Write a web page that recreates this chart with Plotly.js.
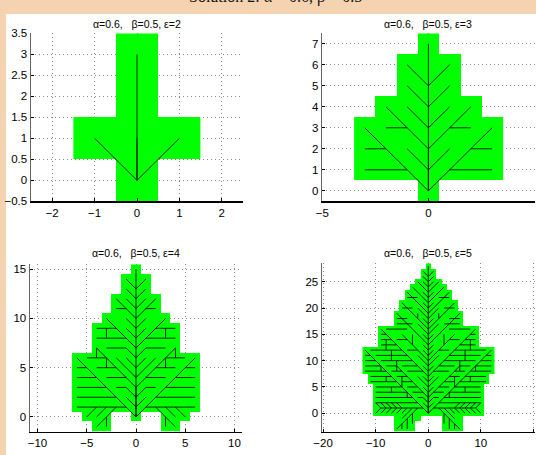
<!DOCTYPE html>
<html>
<head>
<meta charset="utf-8">
<script src="https://cdn.plot.ly/plotly-3.0.1.min.js"></script>
<style>
  html, body { margin: 0; padding: 0; background: #f6d3b0; }
  #fig { width: 536px; height: 455px; }
</style>
</head>
<body>
<div id="fig"></div>
<script>
// panel titles
const titles = [
  'α=0.6,\u00a0\u00a0\u00a0β=0.5, ε=2',
  'α=0.6,\u00a0\u00a0\u00a0β=0.5, ε=3',
  'α=0.6,\u00a0\u00a0\u00a0β=0.5, ε=4',
  'α=0.6,\u00a0\u00a0\u00a0β=0.5, ε=5'
];

// green cells, one row span per entry: [y, xFrom, xTo]
const cells2 = [[0,0,0],[1,-1,1],[2,0,0],[3,0,0]];
const cells3 = [[0,0,0],[1,-3,3],[2,-3,3],[3,-3,3],[4,-2,2],[5,-1,1],[6,-1,1],[7,0,0]];
const cells4 = [
  [-1,-4,-3],[-1,3,4],[0,-5,-3],[0,0,0],[0,3,5],
  [1,-6,6],[2,-6,6],[3,-6,6],[4,-6,6],[5,-6,6],[6,-6,6],
  [7,-4,4],[8,-4,4],[9,-4,4],[10,-3,3],[11,-2,2],[12,-2,2],
  [13,-1,1],[14,-1,1],[15,0,0]
];
const cells5 = [
  [-3,-6,-3],[-3,3,6],[-2,-6,-3],[-2,3,6],[-1,-6,-2],[-1,3,6],
  [0,-10,10],[1,-10,10],[2,-10,10],[3,-10,10],[4,-10,10],[5,-10,10],
  [6,-11,11],[7,-11,11],
  [8,-12,12],[9,-12,12],[10,-12,12],[11,-12,12],[12,-12,12],
  [13,-9,9],[14,-9,9],[15,-9,9],[16,-9,9],
  [17,-6,6],[18,-6,6],[19,-6,6],[20,-5,5],[21,-5,5],
  [22,-4,4],[23,-4,4],[24,-3,3],[25,-2,2],[26,-1,1],[27,-1,1],[28,0,0]
];

// branches of the right half (trunk included), [x0, y0, x1, y1]; the left half is the mirror
const segs2 = [[0,0,0,3],[0,0,0,1],[0,0,1,1]];
const segs3 = [
  [0,0,0,7],[0,0,0,2],
  [0,0,3,3],[0,1,1,2],[0,2,2,4],[0,3,1,4],[0,4,1,5],[0,5,1,6],
  [1,1,3,1],[2,2,3,2],[1,3,2,3]
];
const segs4 = [
  [0,0,0,15],[0,0,0,3],
  [0,0,6,6],[1,1,6,1],[2,2,6,2],[3,3,6,3],[4,4,6,4],[5,5,6,5],
  [2,1,4,-1],[3,1,4,0],[4,1,5,0],[3,0,3,-1],
  [0,1,1,2],[0,2,1,3],[1,3,2,3],
  [0,3,4,7],[1,4,3,4],[2,5,4,5],[3,6,5,6],[0,4,2,6],[0,5,1,6],[0,6,1,7],[1,7,3,7],
  [4,6,4,7],[3,5,3,6],[3,8,3,9],
  [0,7,3,10],[1,8,4,8],[2,9,4,9],[0,8,1,9],[0,9,1,10],[0,10,2,12],[1,11,2,11],
  [0,11,1,12],[0,12,1,13],[0,13,1,14]
];
const segs5 = [
  [0,0,0,28],[0,0,0,4],
  // veins off the midrib
  [0,0,12,12],[0,1,1,2],[0,2,1,3],[0,3,6,9],[0,4,1,5],[0,5,2,7],[0,6,1,7],
  [0,7,9,16],[0,8,1,9],[0,9,2,11],[0,10,5,15],[0,11,1,12],[0,12,1,13],
  [0,13,6,19],[0,14,1,15],[0,15,2,17],[0,16,5,21],[0,17,1,18],[0,18,2,20],
  [0,19,4,23],[0,20,1,21],[0,21,3,24],[0,22,1,23],[0,23,2,25],[0,24,1,25],
  [0,25,1,26],[0,26,1,27],
  // horizontal hatching
  [1,1,9,1],[2,2,10,2],[3,3,10,3],[4,4,10,4],[5,5,10,5],[6,6,11,6],[7,7,11,7],
  [8,8,12,8],[9,9,12,9],[10,10,12,10],[11,11,12,11],
  [1,4,3,4],[2,5,4,5],[3,6,5,6],[4,7,6,7],[5,8,7,8],[6,9,8,9],[1,3,2,3],
  [1,8,4,8],[2,9,5,9],[3,10,9,10],[4,11,10,11],[5,12,11,12],
  [6,13,9,13],[7,14,9,14],[8,15,9,15],[2,12,4,12],[4,14,6,14],[4,16,8,16],
  [3,17,6,17],[4,18,6,18],[3,20,5,20],[2,22,4,22],
  // short vertical twigs
  [5,5,5,7],[7,4,7,5],[8,6,8,7],[9,8,9,9],[6,8,6,10],[4,3,4,4],
  [7,10,7,12],[8,12,8,14],[3,13,3,15],[2,18,2,19],
  // fishbone on the lowest vein
  [5,1,6,2],[5,1,6,0],[6,1,7,2],[6,1,7,0],[7,1,8,2],[7,1,8,0],
  [8,1,9,2],[8,1,9,0],[9,1,10,2],[9,1,10,0],
  // lower lobe
  [2,1,6,-3],[3,1,5,-1],[4,1,5,0],[3,0,3,-2],[4,-1,4,-3],[5,-2,5,-3]
];

// axis ranges and ticks
const xRanges = [[-2.5,2.5],[-5,5],[-10.76,10.76],[-20.2,20.2]];
const yRanges = [[-0.5,3.5],[-0.5,7.5],[-1.5,15.5],[-3.5,28.5]];
const xTicks = [[-2,-1,0,1,2],[-5,0,5],[-10,-5,0,5,10],[-20,-10,0,10,20]];
const yTicks = [
  [-0.5,0,0.5,1,1.5,2,2.5,3,3.5],
  [0,1,2,3,4,5,6,7],
  [0,5,10,15],
  [0,5,10,15,20,25]
];

const W = 536, H = 455;
// plot boxes in pixels: [left, right, top, bottom]
const boxes = [[31,243,33.3,201.3],[322.3,534.5,33.3,201.3],[30,242,264.3,431.7],[322,534.5,263.3,431.7]];
const titleY = [23.5, 23.5, 252.5, 252.5];

const GREEN = '#00ff00';
const FONT = 'Liberation Sans, Arial, Helvetica, sans-serif';

function mirror(segs) {
  const left = segs
    .filter(s => !(s[0] === 0 && s[2] === 0))
    .map(s => [-s[0], s[1], -s[2], s[3]]);
  return segs.concat(left);
}

function cellGrid(spans) {
  const ys = spans.map(s => s[0]);
  const xs = spans.flatMap(s => [s[1], s[2]]);
  const x0 = Math.min(...xs), x1 = Math.max(...xs);
  const y0 = Math.min(...ys), y1 = Math.max(...ys);
  const xv = [], yv = [], z = [];
  for (let x = x0; x <= x1; x++) xv.push(x);
  for (let y = y0; y <= y1; y++) {
    yv.push(y);
    z.push(xv.map(() => null));
  }
  spans.forEach(s => {
    for (let x = s[1]; x <= s[2]; x++) z[s[0] - y0][x - x0] = 1;
  });
  return { x: xv, y: yv, z: z };
}

function lineXY(segs) {
  const x = [], y = [];
  segs.forEach(s => {
    x.push(s[0], s[2], null);
    y.push(s[1], s[3], null);
  });
  return { x: x, y: y };
}

const allCells = [cells2, cells3, cells4, cells5];
const allSegs = [segs2, segs3, segs4, segs5].map(mirror);

const traces = [];
const layout = {
  width: W,
  height: H,
  margin: { l: 0, r: 0, t: 0, b: 0 },
  paper_bgcolor: '#f6d3b0',
  plot_bgcolor: 'white',
  showlegend: false,
  font: { family: FONT, size: 11, color: '#000' },
  shapes: [{
    type: 'rect', xref: 'paper', yref: 'paper',
    x0: 6 / W, x1: 1.01, y0: -0.01, y1: 1 - 14 / H,
    fillcolor: 'white', line: { width: 0 }, layer: 'below'
  }],
  annotations: [{
    // heading of the scanned page, mostly above the crop
    text: 'Solution 2: α = 0.6, β = 0.5',
    xref: 'paper', yref: 'paper', x: 275 / W, y: 1 + 3.5 / H,
    xanchor: 'center', yanchor: 'middle', showarrow: false,
    font: { family: 'Liberation Serif, Times New Roman, serif', size: 16, color: '#111' }
  }]
};

for (let i = 0; i < 4; i++) {
  const sfx = i === 0 ? '' : String(i + 1);
  const g = cellGrid(allCells[i]);
  traces.push({
    type: 'heatmap',
    x: g.x, y: g.y, z: g.z,
    xaxis: 'x' + sfx, yaxis: 'y' + sfx,
    colorscale: [[0, GREEN], [1, GREEN]],
    zmin: 0, zmax: 1, showscale: false,
    hoverinfo: 'skip'
  });
  const l = lineXY(allSegs[i]);
  traces.push({
    type: 'scatter', mode: 'lines',
    x: l.x, y: l.y,
    xaxis: 'x' + sfx, yaxis: 'y' + sfx,
    line: { color: 'rgba(0,0,0,0.85)', width: 1 },
    hoverinfo: 'skip'
  });

  const b = boxes[i];
  const common = {
    showgrid: true,
    gridcolor: '#8a8a8a',
    griddash: '1px,3px',
    gridwidth: 1,
    zeroline: false,
    showline: true,
    mirror: false,
    ticks: 'inside',
    ticklen: 3,
    tickcolor: '#000',
    tickfont: { family: FONT, size: 11.5, color: '#000' },
    fixedrange: true
  };
  layout['xaxis' + sfx] = Object.assign({}, common, {
    domain: [b[0] / W, b[1] / W],
    range: xRanges[i],
    tickmode: 'array',
    tickvals: xTicks[i],
    anchor: 'y' + sfx,
    linecolor: '#000',
    linewidth: 1.5
  });
  layout['yaxis' + sfx] = Object.assign({}, common, {
    domain: [1 - b[3] / H, 1 - b[2] / H],
    range: yRanges[i],
    tickmode: 'array',
    tickvals: yTicks[i],
    anchor: 'x' + sfx,
    linecolor: '#666',
    linewidth: 1.5
  });
  layout.annotations.push({
    text: titles[i],
    xref: 'paper', yref: 'paper',
    x: (b[0] + b[1]) / 2 / W, y: 1 - titleY[i] / H,
    xanchor: 'center', yanchor: 'middle', showarrow: false,
    font: { family: FONT, size: 10.5, color: '#000' }
  });
}

Plotly.newPlot('fig', traces, layout, { displayModeBar: false, staticPlot: true });
</script>
</body>
</html>
